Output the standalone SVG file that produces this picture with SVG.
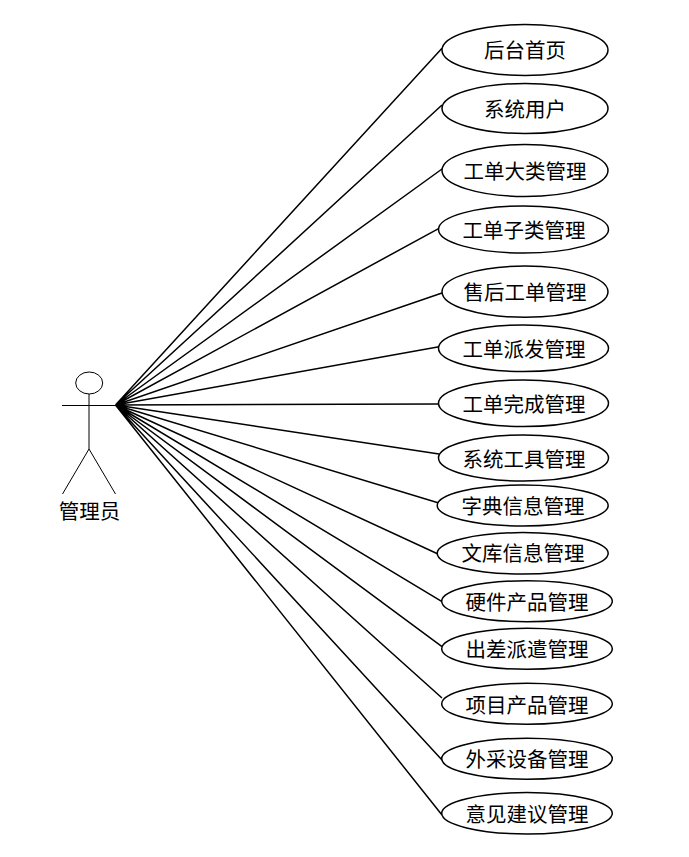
<svg xmlns="http://www.w3.org/2000/svg" width="689" height="857" viewBox="0 0 689 857">
<style>
.s{fill:none;stroke:#000;stroke-width:1.500}
.t{fill:none;stroke:#000;stroke-width:1}
.e{fill:#fff;stroke:#000;stroke-width:1.500}
text{font-family:"Noto Sans CJK SC","Noto Sans",sans-serif;font-size:20.500px;font-weight:400;fill:#000;text-anchor:middle}
</style>
<rect width="689" height="857" fill="#fff"/>
<g id="actor">
<ellipse class="t" cx="89.200" cy="383" rx="13.500" ry="11"/>
<path class="t" d="M89 394V449M89 449L62.500 494M89 449L115.500 494"/>
<path class="t" d="M62 405.500H116"/>
<text x="89.500" y="518.500">管理员</text>
</g>
<g id="connectors" class="s">
<path d="M115.500 405L442 48.300M115.500 405L442 105M115.500 405L442 169M115.500 405L439 228.300M115.500 405L442 293M115.500 405L439 346.700M115.500 405L439 404M115.500 405L439 454M115.500 405L438 502.700M115.500 405L438 554M115.500 405L442 601.700M115.500 405L442 646.700M115.500 405L442 698M115.500 405L442 760M115.500 405L442 815"/>
</g>
<g id="n1"><ellipse class="e" cx="525" cy="50" rx="83" ry="25.500"/><text x="525" y="58">后台首页</text></g>
<g id="n2"><ellipse class="e" cx="525" cy="108.500" rx="83" ry="25"/><text x="525" y="116.500">系统用户</text></g>
<g id="n3"><ellipse class="e" cx="525" cy="170.500" rx="83" ry="26"/><text x="525" y="179">工单大类管理</text></g>
<g id="n4"><ellipse class="e" cx="523.500" cy="229.500" rx="85" ry="23.500"/><text x="524" y="237.500">工单子类管理</text></g>
<g id="n5"><ellipse class="e" cx="525" cy="291.700" rx="83" ry="25.600"/><text x="525" y="300">售后工单管理</text></g>
<g id="n6"><ellipse class="e" cx="523.500" cy="348.300" rx="85" ry="23.300"/><text x="524" y="356.500">工单派发管理</text></g>
<g id="n7"><ellipse class="e" cx="523.500" cy="403.300" rx="85" ry="23.300"/><text x="524" y="411.500">工单完成管理</text></g>
<g id="n8"><ellipse class="e" cx="523.500" cy="458" rx="85" ry="23"/><text x="524" y="466.500">系统工具管理</text></g>
<g id="n9"><ellipse class="e" cx="522.700" cy="505.500" rx="85.500" ry="20.500"/><text x="523" y="513.500">字典信息管理</text></g>
<g id="n10"><ellipse class="e" cx="522.700" cy="553.300" rx="85.500" ry="20.700"/><text x="523" y="561">文库信息管理</text></g>
<g id="n11"><ellipse class="e" cx="527" cy="601.200" rx="85.300" ry="20.500"/><text x="527" y="609.500">硬件产品管理</text></g>
<g id="n12"><ellipse class="e" cx="527" cy="648.800" rx="85.300" ry="20.500"/><text x="527" y="657">出差派遣管理</text></g>
<g id="n13"><ellipse class="e" cx="527" cy="703.800" rx="85.300" ry="20.500"/><text x="527" y="712.500">项目产品管理</text></g>
<g id="n14"><ellipse class="e" cx="527" cy="758.700" rx="85.300" ry="20.500"/><text x="527" y="766.500">外采设备管理</text></g>
<g id="n15"><ellipse class="e" cx="527" cy="813.300" rx="85.300" ry="20.700"/><text x="527" y="821.500">意见建议管理</text></g>
</svg>
